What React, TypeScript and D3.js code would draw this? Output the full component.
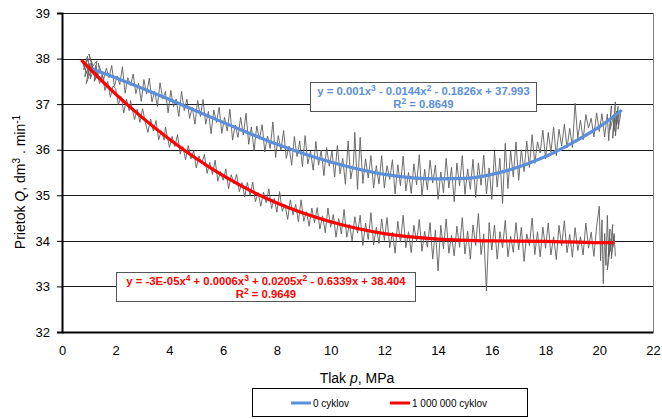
import React, { useEffect, useRef } from "react";
import * as d3 from "d3";

const WIDTH = 662;
const HEIGHT = 419;

// axis ticks
const xTicks = [0, 2, 4, 6, 8, 10, 12, 14, 16, 18, 20, 22];
const yTicks = [32, 33, 34, 35, 36, 37, 38, 39];

// measured flow, 0 cycles
const cycle0X = [
  0.8, 0.95, 0.85, 1.05, 0.9, 1.15, 1.0, 1.25, 1.1, 1.3, 1.2, 1.4, 1.35,
  1.55, 1.65, 1.75, 1.85, 1.95, 2.05, 2.15, 2.25, 2.35, 2.45, 2.55, 2.65, 2.75, 2.85, 2.95,
  3.05, 3.15, 3.25, 3.35, 3.45, 3.55, 3.65, 3.75, 3.85, 3.95, 4.05, 4.15, 4.25, 4.35, 4.45,
  4.55, 4.65, 4.75, 4.85, 4.95, 5.05, 5.15, 5.25, 5.35, 5.45, 5.55, 5.65, 5.75, 5.85, 5.95,
  6.05, 6.15, 6.25, 6.35, 6.45, 6.55, 6.65, 6.75, 6.85, 6.95, 7.05, 7.15, 7.25, 7.35, 7.45,
  7.55, 7.65, 7.75, 7.85, 7.95, 8.05, 8.15, 8.25, 8.35, 8.45, 8.55, 8.65, 8.75, 8.85, 8.95,
  9.05, 9.15, 9.25, 9.35, 9.45, 9.55, 9.65, 9.75, 9.85, 9.95, 10.05, 10.15, 10.25, 10.35,
  10.45, 10.55, 10.65, 10.75, 10.85, 10.9, 11.0, 11.1, 11.2, 11.3, 11.4, 11.5, 11.6, 11.7,
  11.8, 11.9, 12.0, 12.1, 12.2, 12.3, 12.4, 12.5, 12.6, 12.7, 12.8, 12.9, 13.0, 13.1, 13.2,
  13.3, 13.4, 13.5, 13.6, 13.7, 13.8, 13.9, 14.0, 14.1, 14.2, 14.3, 14.4, 14.5, 14.6, 14.7,
  14.8, 14.9, 15.0, 15.1, 15.2, 15.3, 15.4, 15.5, 15.6, 15.7, 15.8, 15.9, 16.0, 16.1, 16.2,
  16.3, 16.4, 16.5, 16.6, 16.7, 16.8, 16.9, 17.0, 17.1, 17.2, 17.3, 17.4, 17.5, 17.6, 17.7,
  17.8, 17.9, 18.0, 18.1, 18.2, 18.3, 18.4, 18.5, 18.6, 18.7, 18.8, 18.9, 19.0, 19.1, 19.2,
  19.3, 19.4, 19.5, 19.6, 19.7, 19.8, 19.9, 20.0, 20.1, 20.2, 20.3, 20.35, 20.45, 20.4,
  20.55, 20.5, 20.6, 20.55, 20.65, 20.6, 20.7, 20.65, 20.75, 20.7, 20.8,
];
const cycle0Y = [
  37.75, 38.05, 37.6, 37.9, 37.45, 37.85, 38.1, 37.55, 37.8, 37.95, 37.5, 37.7, 37.9,
  37.54, 37.79, 37.58, 37.85, 37.39, 37.62, 37.43, 37.82, 37.24, 37.58, 37.41, 37.66, 37.23,
  37.46, 37.06, 37.54, 37.22, 37.57, 37.05, 37.28, 36.95, 37.47, 37.11, 37.28, 36.81, 37.3,
  36.94, 37.11, 36.73, 37.28, 36.86, 37.11, 36.69, 36.93, 36.56, 37.08, 36.73, 37.1, 36.56,
  36.84, 36.35, 36.87, 36.6, 36.93, 36.36, 36.71, 36.41, 36.89, 36.21, 36.54, 36.27, 36.71,
  36.32, 36.8, 36.12, 36.5, 35.98, 36.52, 36.23, 36.55, 35.95, 36.3, 36.03, 36.61, 35.83,
  36.31, 35.99, 36.42, 35.81, 36.08, 35.66, 36.29, 35.85, 36.19, 35.63, 36.31, 35.69, 35.97,
  35.55, 36.18, 35.66, 35.99, 35.43, 36.05, 35.64, 35.97, 35.4, 36.09, 35.47, 35.81, 35.24,
  36.19, 35.36, 35.7, 36.38, 35.13, 36.27, 35.26, 35.8, 35.38, 35.87, 35.16, 35.65, 35.25,
  35.87, 35.16, 35.65, 35.35, 35.78, 35.03, 35.67, 35.21, 35.86, 35.1, 35.5, 35.04, 35.69,
  35.23, 35.89, 34.98, 35.57, 35.12, 35.77, 35.27, 35.66, 34.91, 35.51, 35.06, 35.81, 35.16,
  35.61, 34.86, 35.71, 35.21, 35.87, 35.02, 35.58, 35.13, 35.79, 34.95, 35.71, 35.22, 35.88,
  35.03, 35.6, 34.91, 35.97, 35.18, 35.81, 34.82, 36.14, 35.15, 35.98, 35.4, 36.17, 35.33,
  36.0, 35.52, 36.19, 35.61, 36.33, 35.7, 36.17, 35.93, 36.43, 35.8, 36.38, 35.95, 36.49,
  35.87, 36.45, 36.08, 36.56, 36.04, 36.47, 36.05, 37.02, 36.25, 36.65, 36.22, 36.77, 36.48,
  36.69, 36.28, 36.81, 36.4, 36.79, 36.28, 36.78, 36.2, 36.96, 36.44, 36.78, 36.25, 37.05,
  36.4, 36.85, 36.3, 36.95, 36.55, 36.85, 36.45, 36.8,
];

// measured flow, 1 000 000 cycles
const cycle1mX = [
  0.75, 0.9, 0.8, 1.0, 0.95, 1.1, 1.05, 1.2, 1.3, 1.25, 1.4, 1.5, 1.6, 1.7, 1.8, 1.9,
  2.0, 2.1, 2.2, 2.3, 2.4, 2.5, 2.55, 2.7, 2.8, 2.9, 3.0, 3.1, 3.2, 3.3, 3.4, 3.5, 3.6, 3.7,
  3.8, 3.85, 4.0, 4.1, 4.2, 4.3, 4.4, 4.5, 4.6, 4.7, 4.8, 4.9, 5.0, 5.1, 5.2, 5.3, 5.4, 5.5,
  5.6, 5.7, 5.8, 5.9, 6.0, 6.1, 6.2, 6.3, 6.4, 6.5, 6.6, 6.7, 6.8, 6.9, 7.0, 7.1, 7.2, 7.3,
  7.4, 7.5, 7.6, 7.7, 7.8, 7.9, 8.0, 8.1, 8.2, 8.3, 8.4, 8.5, 8.6, 8.7, 8.8, 8.9, 9.0, 9.1,
  9.2, 9.3, 9.4, 9.5, 9.6, 9.7, 9.8, 9.9, 10.0, 10.1, 10.2, 10.3, 10.4, 10.5, 10.6, 10.7,
  10.8, 10.9, 11.0, 11.1, 11.2, 11.3, 11.4, 11.5, 11.6, 11.7, 11.8, 11.9, 12.0, 12.1, 12.2,
  12.3, 12.4, 12.5, 12.6, 12.7, 12.8, 12.9, 13.0, 13.1, 13.2, 13.3, 13.4, 13.5, 13.6, 13.7,
  13.8, 13.9, 14.0, 14.1, 14.2, 14.3, 14.4, 14.5, 14.6, 14.7, 14.8, 14.9, 15.0, 15.1, 15.2,
  15.3, 15.4, 15.5, 15.6, 15.7, 15.8, 15.9, 16.0, 16.1, 16.2, 16.3, 16.4, 16.5, 16.6, 16.7,
  16.8, 16.9, 17.0, 17.1, 17.2, 17.3, 17.4, 17.5, 17.6, 17.7, 17.8, 17.9, 18.0, 18.1, 18.2,
  18.3, 18.4, 18.5, 18.6, 18.7, 18.8, 18.9, 19.0, 19.1, 19.2, 19.3, 19.4, 19.5, 19.6, 19.7,
  19.8, 19.9, 20.0, 20.05, 20.1, 20.15, 20.2, 20.25, 20.3, 20.35, 20.4, 20.3, 20.45, 20.4,
  20.5, 20.45, 20.55, 20.5, 20.55, 20.6,
];
const cycle1mY = [
  37.95, 37.7, 37.85, 38.0, 37.6, 37.9, 37.55, 37.8, 37.6, 37.85, 37.45, 37.65, 37.3, 37.5,
  37.15, 37.4, 37.34, 36.99, 37.17, 36.81, 37.11, 36.86, 37.08, 36.66, 36.89, 36.6, 36.9,
  36.6, 36.38, 36.67, 36.41, 36.64, 36.22, 36.42, 36.21, 36.5, 36.05, 36.29, 36.07, 36.33,
  35.91, 36.07, 35.78, 36.09, 35.8, 35.98, 35.6, 35.86, 35.69, 35.9, 35.48, 35.72, 35.46,
  35.77, 35.31, 35.52, 35.33, 35.58, 35.14, 35.45, 35.25, 35.46, 35.08, 35.28, 34.96, 35.28,
  35.0, 35.29, 34.86, 35.06, 34.76, 35.07, 34.84, 35.14, 34.71, 34.93, 34.63, 35.08, 34.65,
  34.8, 34.47, 34.9, 34.57, 34.8, 34.42, 34.9, 34.43, 34.64, 34.32, 34.72, 34.4, 34.73,
  34.26, 34.55, 34.18, 34.72, 34.3, 34.58, 34.08, 34.49, 34.15, 34.69, 34.08, 34.36, 34.0,
  34.53, 34.17, 34.56, 33.9, 34.39, 34.03, 34.62, 33.91, 34.3, 33.94, 34.48, 34.01, 34.51,
  33.85, 34.19, 33.73, 34.43, 33.97, 34.56, 33.85, 34.2, 33.74, 34.34, 33.98, 34.47, 33.77,
  34.21, 33.86, 34.4, 33.6, 34.24, 33.34, 34.34, 33.83, 34.48, 33.73, 34.12, 33.67, 34.32,
  33.86, 34.51, 33.71, 34.21, 33.6, 34.35, 33.9, 34.6, 33.7, 34.15, 32.9, 34.4, 33.8, 34.35,
  33.6, 34.2, 33.85, 34.45, 33.65, 34.1, 33.75, 34.4, 33.8, 34.3, 33.55, 34.15, 33.9, 34.5,
  33.7, 34.2, 33.65, 34.3, 33.84, 34.39, 33.69, 34.09, 33.59, 34.34, 33.89, 34.44, 33.74,
  34.14, 33.64, 34.29, 33.79, 34.09, 33.69, 34.39, 33.84, 34.19, 33.66, 34.31, 34.76, 33.56,
  34.46, 33.06, 34.16, 33.46, 34.56, 33.66, 34.26, 33.36, 34.06, 33.76, 34.36, 33.61, 34.11,
  33.86, 34.16, 33.66,
];

// polynomial trend lines
const trend0X = [1.15, 2, 4, 6, 8, 10, 12, 14, 15, 16, 18, 19, 20, 20.8];
const trend0Y = [37.77, 37.58, 37.1, 36.6, 36.12, 35.73, 35.46, 35.36, 35.37, 35.46, 35.85, 36.15, 36.5, 36.85];
const trend1mX = [0.75, 2, 4, 6, 8, 10, 12, 14, 16, 18, 20, 20.5];
const trend1mY = [37.95, 37.22, 36.23, 35.43, 34.83, 34.42, 34.16, 34.04, 34.0, 33.99, 33.96, 33.96];

const seriesNames = ["0 cyklov", "1 000 000 cyklov"];
const trendColors = ["#5b8fd9", "#ff0000"];
const equations = [
  ["y = 0.001x^3 - 0.0144x^2 - 0.1826x + 37.993", "R^2 = 0.8649"],
  ["y = -3E-05x^4 + 0.0006x^3 + 0.0205x^2 - 0.6339x + 38.404", "R^2 = 0.9649"],
];

const FONT = "'Liberation Sans', Arial, sans-serif";

// writes "x^3" style text as tspans with superscripts
function superText(sel, str) {
  const parts = str.split(/\^(\d)/);
  parts.forEach((p, i) => {
    if (i % 2 === 1) {
      sel.append("tspan").attr("dy", -4).attr("font-size", "0.75em").text(p);
    } else if (p) {
      sel.append("tspan").attr("dy", i === 0 ? 0 : 4).text(p);
    }
  });
}

function zip(xs, ys) {
  return xs.map((x, i) => [x, ys[i]]);
}

export default function App() {
  const ref = useRef(null);

  useEffect(() => {
    const root = d3.select(ref.current);
    root.selectAll("*").remove();

    const x = d3.scaleLinear().domain([0, 22]).range([62, 653]);
    const y = d3.scaleLinear().domain([32, 39]).range([332, 13]);

    const svg = root
      .append("svg")
      .attr("width", WIDTH)
      .attr("height", HEIGHT)
      .style("position", "absolute")
      .style("left", 0)
      .style("top", 0)
      .style("font-family", FONT);

    // gridlines
    svg
      .append("g")
      .selectAll("line")
      .data(yTicks.slice(1))
      .join("line")
      .attr("x1", x(0))
      .attr("x2", x(22))
      .attr("y1", (d) => Math.round(y(d)) + 0.5)
      .attr("y2", (d) => Math.round(y(d)) + 0.5)
      .attr("stroke", "#1a1a1a")
      .attr("stroke-width", 1);

    // right border
    svg
      .append("line")
      .attr("x1", x(22) + 0.5)
      .attr("x2", x(22) + 0.5)
      .attr("y1", y(39))
      .attr("y2", y(32))
      .attr("stroke", "#808080");

    // y axis
    const yAxis = svg
      .append("g")
      .attr("transform", `translate(${x(0)},0)`)
      .call(d3.axisLeft(y).tickValues(yTicks).tickFormat(d3.format("d")).tickSize(5).tickPadding(7));
    yAxis.select(".domain").attr("stroke", "#000").attr("stroke-width", 2);
    yAxis.selectAll("text").attr("font-size", 13).attr("font-family", FONT).attr("fill", "#000");

    // x axis
    const xAxis = svg
      .append("g")
      .attr("transform", `translate(0,${y(32)})`)
      .call(d3.axisBottom(x).tickValues(xTicks).tickSize(0).tickPadding(14));
    xAxis.select(".domain").attr("stroke", "#000").attr("stroke-width", 2);
    xAxis.selectAll("text").attr("font-size", 13).attr("font-family", FONT).attr("fill", "#000");

    const line = d3
      .line()
      .x((d) => x(d[0]))
      .y((d) => y(d[1]));

    // raw measurements
    [zip(cycle0X, cycle0Y), zip(cycle1mX, cycle1mY)].forEach((pts) => {
      svg
        .append("path")
        .datum(pts)
        .attr("fill", "none")
        .attr("stroke", "#5e5e5e")
        .attr("stroke-width", 0.9)
        .attr("d", line);
    });

    // trend lines
    const trend = d3
      .line()
      .x((d) => x(d[0]))
      .y((d) => y(d[1]))
      .curve(d3.curveMonotoneX);
    [zip(trend0X, trend0Y), zip(trend1mX, trend1mY)].forEach((pts, i) => {
      svg
        .append("path")
        .datum(pts)
        .attr("fill", "none")
        .attr("stroke", trendColors[i])
        .attr("stroke-width", 3.2)
        .attr("stroke-linecap", "round")
        .attr("d", trend);
    });

    // equation boxes
    const boxes = [
      { x: 310, y: 82, w: 226, h: 29 },
      { x: 116, y: 272, w: 299, h: 29 },
    ];
    boxes.forEach((b, i) => {
      const g = svg.append("g");
      g.append("rect")
        .attr("x", b.x + 0.5)
        .attr("y", b.y + 0.5)
        .attr("width", b.w)
        .attr("height", b.h)
        .attr("fill", "#fff")
        .attr("stroke", "#555");
      equations[i].forEach((str, j) => {
        const t = g
          .append("text")
          .attr("x", b.x + b.w / 2 + 0.5)
          .attr("y", b.y + 12.5 + j * 13)
          .attr("text-anchor", "middle")
          .attr("font-size", 11.3)
          .attr("font-weight", "bold")
          .attr("fill", trendColors[i]);
        superText(t, str);
      });
    });

    // axis titles
    const xt = svg
      .append("text")
      .attr("x", 357)
      .attr("y", 383)
      .attr("text-anchor", "middle")
      .attr("font-size", 14)
      .attr("fill", "#000");
    xt.append("tspan").text("Tlak ");
    xt.append("tspan").attr("font-style", "italic").text("p");
    xt.append("tspan").text(", MPa");

    const yt = svg
      .append("text")
      .attr("transform", "translate(25,182) rotate(-90)")
      .attr("text-anchor", "middle")
      .attr("font-size", 14)
      .attr("fill", "#000");
    yt.append("tspan").text("Prietok ");
    yt.append("tspan").attr("font-style", "italic").text("Q");
    yt.append("tspan").text(", dm");
    yt.append("tspan").attr("dy", -5).attr("font-size", 10).text("3");
    yt.append("tspan").attr("dy", 5).text(" . min");
    yt.append("tspan").attr("dy", -5).attr("font-size", 10).text("-1");

    // legend
    const lg = svg.append("g");
    lg.append("rect")
      .attr("x", 252.5)
      .attr("y", 388.5)
      .attr("width", 275)
      .attr("height", 28)
      .attr("fill", "#fff")
      .attr("stroke", "#000");
    const legendX = [291, 390];
    seriesNames.forEach((name, i) => {
      lg.append("line")
        .attr("x1", legendX[i])
        .attr("x2", legendX[i] + 20)
        .attr("y1", 403)
        .attr("y2", 403)
        .attr("stroke", trendColors[i])
        .attr("stroke-width", 3);
      lg.append("text")
        .attr("x", legendX[i] + 22)
        .attr("y", 406.5)
        .attr("font-size", 10)
        .attr("fill", "#000")
        .text(name);
    });
  }, []);

  return <div ref={ref}></div>;
}
